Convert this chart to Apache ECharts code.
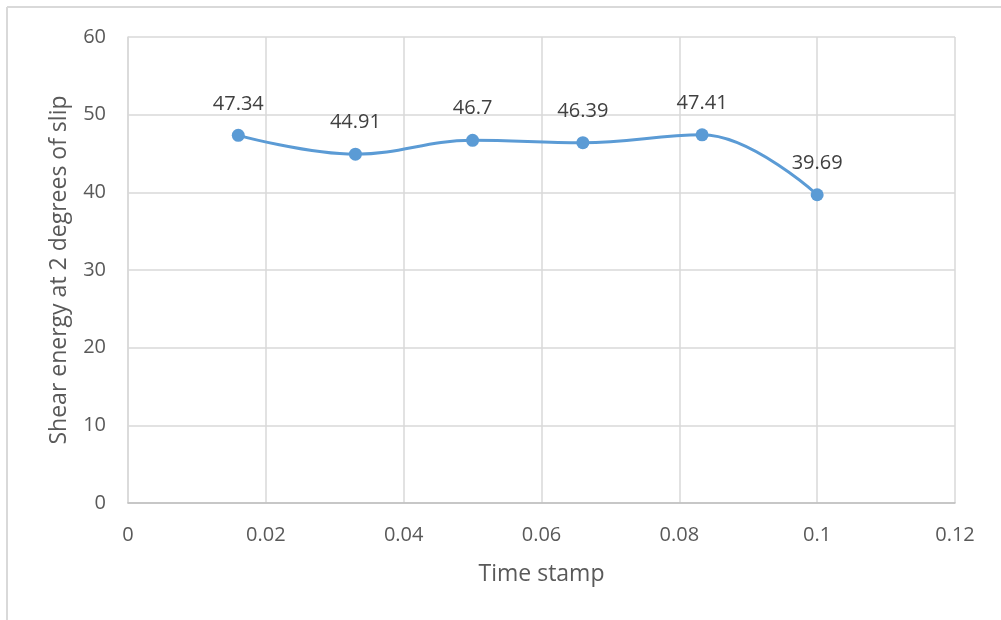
<!DOCTYPE html>
<html>
<head>
<meta charset="utf-8">
<script src="https://cdn.jsdelivr.net/npm/echarts@6/dist/echarts.min.js"></script>
<style>
  html, body { margin: 0; padding: 0; background: #fff; }
  #chart { width: 1001px; height: 620px; }
</style>
</head>
<body>
<div id="chart"></div>
<script>
// Time stamps and shear energy readings
const timeStamps = [0.016, 0.033, 0.05, 0.066, 0.0833, 0.1];
const shearEnergy = [47.34, 44.91, 46.7, 46.39, 47.41, 39.69];

const xAxisTitle = 'Time stamp';
const yAxisTitle = 'Shear energy at 2 degrees of slip';

const FONT = 'Open Sans';
const TEXT = '#595959';
const GRID = '#d9d9d9';

const points = timeStamps.map((t, i) => [t, shearEnergy[i]]);

const chart = echarts.init(document.getElementById('chart'));
chart.setOption({
  animation: false,
  backgroundColor: '#fff',
  textStyle: { fontFamily: FONT },
  graphic: [
    { type: 'line', shape: { x1: 7, y1: 7, x2: 1001, y2: 7 }, style: { stroke: '#d9d9d9', lineWidth: 2 } },
    { type: 'line', shape: { x1: 7, y1: 7, x2: 7, y2: 620 }, style: { stroke: '#d9d9d9', lineWidth: 2 } }
  ],
  grid: { left: 128, right: 46, top: 37, bottom: 117 },
  xAxis: {
    type: 'value', min: 0, max: 0.12, interval: 0.02,
    name: xAxisTitle, nameLocation: 'middle', nameGap: 60,
    nameTextStyle: { color: TEXT, fontSize: 23, fontFamily: FONT },
    axisLine: { show: true, lineStyle: { color: '#bfbfbf', width: 1.5 } },
    axisTick: { show: false },
    axisLabel: { color: TEXT, fontSize: 20, margin: 22, fontFamily: FONT,
      formatter: v => String(parseFloat(v.toFixed(4))) },
    splitLine: { show: true, lineStyle: { color: GRID, width: 1.5 } }
  },
  yAxis: {
    type: 'value', min: 0, max: 60, interval: 10,
    name: yAxisTitle, nameLocation: 'middle', nameGap: 57,
    nameTextStyle: { color: TEXT, fontSize: 23, fontFamily: FONT },
    axisLine: { show: true, lineStyle: { color: GRID, width: 1.5 } },
    axisTick: { show: false },
    axisLabel: { color: TEXT, fontSize: 20, margin: 22, fontFamily: FONT },
    splitLine: { show: true, lineStyle: { color: GRID, width: 1.5 } }
  },
  series: [{
    type: 'line',
    data: points,
    smooth: 0.4,
    symbol: 'circle',
    symbolSize: 13,
    lineStyle: { color: '#5b9bd5', width: 3 },
    itemStyle: { color: '#5b9bd5' },
    label: {
      show: true, position: 'top', distance: 15,
      color: '#404040', fontSize: 20, fontFamily: FONT,
      formatter: p => String(p.value[1])
    }
  }]
});
</script>
</body>
</html>
